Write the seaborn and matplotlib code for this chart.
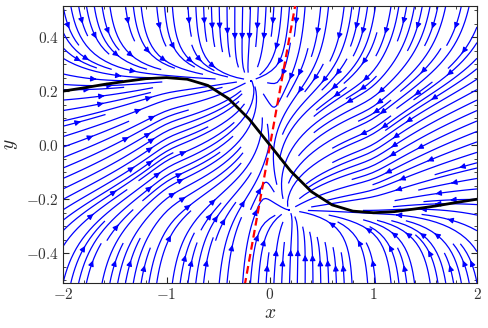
import numpy as np
import seaborn as sns
import matplotlib.pyplot as plt
from matplotlib.ticker import MultipleLocator, AutoMinorLocator, FuncFormatter

# black curve
curve_x = [-2.0, -1.8, -1.6, -1.4, -1.2, -1.0, -0.8, -0.6, -0.4, -0.2, 0.0,
           0.2, 0.4, 0.6, 0.8, 1.0, 1.2, 1.4, 1.6, 1.8, 2.0]
curve_y = [0.200, 0.212, 0.225, 0.236, 0.246, 0.250, 0.244, 0.221, 0.172, 0.096, 0.0,
           -0.096, -0.172, -0.221, -0.244, -0.250, -0.246, -0.236, -0.225, -0.212, -0.200]

# red dashed line
red_x = [-0.245, 0.245]
red_y = [-0.52, 0.52]

# field parameters (guessed from the streamline shapes)
well = 0.24      # level of the two horizontal collecting lines
red_slope = 2.1
k_y = 200.0
x_pull = 0.75
soft_in = 0.0035
soft_out = 0.008

sns.set_style('ticks')
plt.rcParams['font.family'] = 'serif'
plt.rcParams['mathtext.fontset'] = 'cm'

xs = np.linspace(-2, 2, 241)
ys = np.linspace(-0.51, 0.515, 181)
X, Y = np.meshgrid(xs, ys)
H = np.interp(X, curve_x, curve_y)
W = 1 / (1 + X ** 20)
side = np.tanh((Y / red_slope - X) / 0.04)
T = W * well * side + (1 - W) * H
S = 0.25 * np.tanh((Y - T) / 0.25)
soft = soft_in * W + soft_out * (1 - W)
U = -(X + x_pull * Y)
V = -k_y * S * (Y ** 4 + soft)

fig = plt.figure(figsize=(4.88, 3.28), dpi=100)
ax = fig.add_axes([63/488, 1 - 283/328, 414/488, 277/328])

ax.streamplot(xs, ys, U, V, color='blue', density=1.8, linewidth=0.9, arrowsize=0.8)
ax.plot(curve_x, curve_y, color='black', lw=2.0, zorder=3)
ax.plot(red_x, red_y, color='red', lw=1.6, ls='--', dashes=(3.5, 2), zorder=4)

ax.set_xlim(-2, 2)
ax.set_ylim(-0.51, 0.515)
ax.xaxis.set_major_locator(MultipleLocator(1))
ax.yaxis.set_major_locator(MultipleLocator(0.2))
ax.xaxis.set_minor_locator(AutoMinorLocator(5))
ax.yaxis.set_minor_locator(AutoMinorLocator(4))
ax.xaxis.set_major_formatter(FuncFormatter(lambda v, p: f'${v:.0f}$'))
ax.yaxis.set_major_formatter(FuncFormatter(lambda v, p: f'${v:.1f}$'))
ax.tick_params(which='both', direction='in', top=True, right=True, labelsize=11,
               labelcolor='#333333', pad=3)
ax.tick_params(which='major', length=4)
ax.tick_params(which='minor', length=2)
for s in ax.spines.values():
    s.set_linewidth(0.8)
ax.set_xlabel('$x$', fontsize=14, labelpad=1)
ax.set_ylabel('$y$', fontsize=14, labelpad=4)

fig.savefig('out.png', dpi=100)
